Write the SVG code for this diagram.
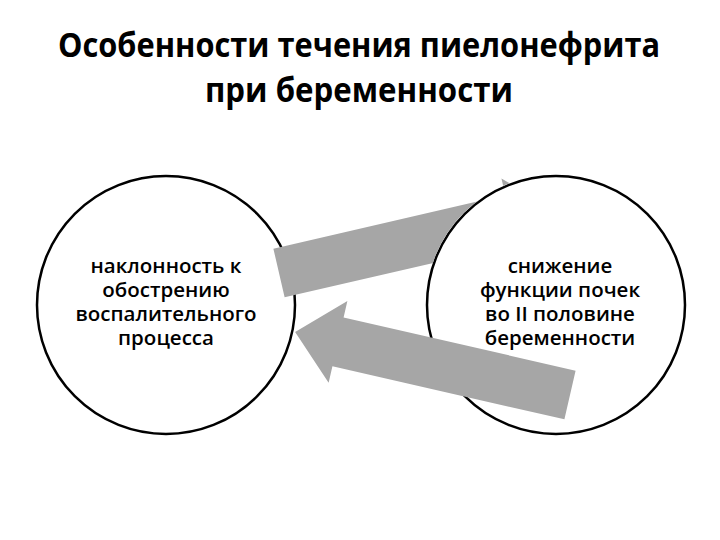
<svg xmlns="http://www.w3.org/2000/svg" width="720" height="540" viewBox="0 0 720 540">
<style>
.title{font-family:"Open Sans","DejaVu Sans",sans-serif;font-weight:700;font-size:34px;fill:#000;text-anchor:middle}
.lbl{font-family:"Open Sans","DejaVu Sans",sans-serif;font-weight:600;font-size:20.5px;fill:#000;text-anchor:middle}
.circ{fill:#fff;stroke:#000;stroke-width:2.5}
.arrow{fill:#a6a6a6}
</style>
<defs>
<polygon id="arr" class="arrow" points="0,-25 238,-25 238,-42 282,0 238,42 238,25 0,25"/>
<mask id="m1" maskUnits="userSpaceOnUse" x="0" y="0" width="720" height="540">
<rect width="720" height="540" fill="#fff"/>
<circle cx="556" cy="305" r="130.3" fill="#000"/>
</mask>
</defs>
<rect width="720" height="540" fill="#fff"/>
<g id="title">
<text class="title" x="359" y="57" textLength="602" lengthAdjust="spacingAndGlyphs">Особенности течения пиелонефрита</text>
<text class="title" x="359" y="102" textLength="308" lengthAdjust="spacingAndGlyphs">при беременности</text>
</g>
<g id="node-left">
<circle class="circ" cx="166" cy="305" r="129"/>
<text class="lbl" x="166" y="273">наклонность к</text>
<text class="lbl" x="166" y="297">обострению</text>
<text class="lbl" x="166" y="321">воспалительного</text>
<text class="lbl" x="166" y="345">процесса</text>
</g>
<g id="node-right">
<circle class="circ" cx="556" cy="305" r="129"/>
<text class="lbl" x="560" y="273">снижение</text>
<text class="lbl" x="560" y="297">функции почек</text>
<text class="lbl" x="560" y="321">во II половине</text>
<text class="lbl" x="560" y="345">беременности</text>
</g>
<g id="connectors">
<g mask="url(#m1)"><use href="#arr" transform="translate(279,273) rotate(-13)"/></g>
<use href="#arr" transform="translate(570,395) rotate(192.9)"/>
</g>
</svg>
